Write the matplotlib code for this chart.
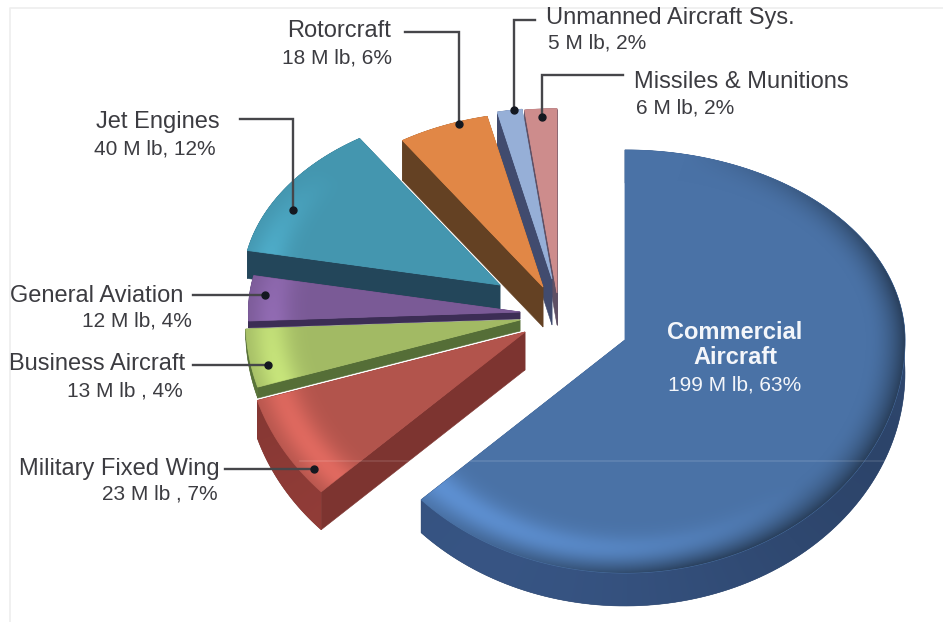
import numpy as np
import matplotlib
matplotlib.use("Agg")
import matplotlib.pyplot as plt
from matplotlib.patches import Polygon

plt.rcParams['font.family'] = ['Liberation Sans', 'DejaVu Sans']

# shipments by segment, million lb, clockwise from 12 o'clock
segments = ["Commercial\nAircraft", "Military Fixed Wing", "Business Aircraft", "General Aviation",
            "Jet Engines", "Rotorcraft", "Unmanned Aircraft Sys.", "Missiles & Munitions"]
pounds = [199, 23, 13, 12, 40, 18, 5, 6]
details = ["199 M lb, 63%", "23 M lb , 7%", "13 M lb , 4%", "12 M lb, 4%",
           "40 M lb, 12%", "18 M lb, 6%", "5 M lb, 2%", "6 M lb, 2%"]

top_colors = ["#4a72a6", "#b2544c", "#a2ba64", "#7a5a96", "#4496af", "#e18746", "#96afd7", "#cd8c8c"]
side_colors = ["#2f4870", "#7d3430", "#556e37", "#3c2d55", "#23465a", "#644123", "#414b6e", "#5f5064"]

# apex of every exploded slice, its radius scale and its thickness (pixels)
apex_x = [625, 525, 520, 520, 500, 543, 552, 557]
apex_y = [340, 332, 320, 312, 285, 287, 279, 293]
scale = [1.0, 1.0, 0.98, 0.97, 0.92, 0.92, 0.90, 0.97]
depth = [33, 38, 11, 7, 28, 40, 46, 32]

# perspective ellipse: the front half is stretched compared to the back half
RX, RY_BACK, RY_FRONT = 280.0, 190.0, 233.0
W, H = 943, 622
yy, xx = np.mgrid[0:H, 0:W] + 0.5


def project(x0, y0, r, theta):
    s = np.sin(theta)
    ry = np.where(s > 0, RY_BACK, RY_FRONT)
    return x0 + r * RX * np.cos(theta), y0 - r * ry * s


def polar_grid(x0, y0, sc):
    dx = (xx - x0) / RX
    up = y0 - yy
    dy = up / np.where(up > 0, RY_BACK, RY_FRONT)
    return np.hypot(dx, dy) / sc, np.arctan2(dy, dx)


def shaded_face(x0, y0, sc, color):
    # bevel along the rim: highlight lower left, shadow lower right
    r, th = polar_grid(x0, y0, sc)
    band = np.exp(-((r - 0.91) / 0.07) ** 2)
    rim = np.clip((r - 0.86) / 0.14, 0, 1) ** 2
    img = np.ones((H, W, 3)) * np.array(matplotlib.colors.to_rgb(color))
    lift = 0.26 * band * np.clip(np.cos(th - np.deg2rad(225)), 0, 1)
    dark = 0.45 * rim * np.clip(np.cos(th + np.deg2rad(30)) + 0.3, 0, 1)
    img = img * (1 + lift[..., None]) * (1 - dark[..., None])
    return np.clip(img, 0, 1)


def shaded_side(x0, y0, sc, color):
    # only the front half of the wall changes tone
    _, th = polar_grid(x0, y0, sc)
    front = np.clip(-np.sin(th), 0, 1)
    img = np.ones((H, W, 3)) * np.array(matplotlib.colors.to_rgb(color))
    return np.clip(img * (1 + 0.22 * front * np.cos(th - np.deg2rad(215)))[..., None], 0, 1)


def clipped_image(img, patch, zorder):
    im = ax.imshow(img, extent=(0, W, H, 0), zorder=zorder, interpolation="bilinear")
    im.set_clip_path(patch)


fig = plt.figure(figsize=(W / 100, H / 100), dpi=100)
ax = fig.add_axes([0, 0, 1, 1])

fractions = np.array(pounds) / np.sum(pounds)
ends = np.deg2rad(90 - 360 * np.cumsum(fractions))
starts = np.r_[np.deg2rad(90), ends[:-1]]

# back slices first so the nearer ones overlap them
draw_order = [7, 6, 5, 4, 3, 2, 1, 0]
z = 2
for i in draw_order:
    th = np.linspace(starts[i], ends[i], 160)
    px, py = project(apex_x[i], apex_y[i], scale[i], th)
    xs = np.r_[apex_x[i], px]
    ys = np.r_[apex_y[i], py]
    d = depth[i]

    # the two cut faces
    for ex, ey in ((px[0], py[0]), (px[-1], py[-1])):
        quad = [(apex_x[i], apex_y[i]), (ex, ey), (ex, ey + d), (apex_x[i], apex_y[i] + d)]
        ax.add_patch(Polygon(quad, closed=True, fc=side_colors[i], ec=side_colors[i], lw=0.4, zorder=z))
    z += 1

    # outer wall
    wall = Polygon(np.r_[np.c_[px, py], np.c_[px[::-1], py[::-1] + d]], closed=True,
                   fc=side_colors[i], ec=side_colors[i], lw=0.4, zorder=z)
    ax.add_patch(wall)
    z += 1
    clipped_image(shaded_side(apex_x[i], apex_y[i], scale[i], side_colors[i]), wall, z)
    z += 1

    face = Polygon(np.c_[xs, ys], closed=True, fc=top_colors[i], ec=top_colors[i], lw=0.6, zorder=z)
    ax.add_patch(face)
    z += 1
    clipped_image(shaded_face(apex_x[i], apex_y[i], scale[i], top_colors[i]), face, z)
    z += 1

# faint horizontal streak through the front slices
ax.plot([300, 890], [461, 461], color="white", alpha=0.12, lw=1.2, zorder=z)
z += 1

# leader lines, with a dot on the slice
leaders = [
    ([405, 459, 459], [32, 32, 124]),
    ([535, 514, 514], [20, 20, 110]),
    ([623, 542, 542], [75, 75, 117]),
    ([240, 293, 293], [119, 119, 210]),
    ([193, 265], [295, 295]),
    ([193, 268], [365, 365]),
    ([225, 314], [469, 469]),
]
for lx, ly in leaders:
    ax.plot(lx, ly, color="#46464a", lw=1.7, zorder=z, solid_joinstyle="miter")
    ax.plot(lx[-1], ly[-1], "o", color="#141820", ms=5, zorder=z + 1)

# label anchors in draw coordinates (centre of each text line)
name_pos = [None, (119.5, 469), (97, 364), (97, 296), (157.5, 122), (339.5, 31), (670, 18), (741, 82)]
detail_pos = [None, (160, 494), (125, 391), (137, 321), (154.5, 149), (337, 58), (597, 43), (685, 108)]
text_color = "#3c3c41"
for i in range(1, len(segments)):
    ax.text(*name_pos[i], segments[i], ha="center", va="center", fontsize=17, color=text_color, zorder=z + 2)
    ax.text(*detail_pos[i], details[i], ha="center", va="center", fontsize=15, color=text_color, zorder=z + 2)

ax.text(735, 345, segments[0], ha="center", va="center", fontsize=17, fontweight="bold", color="#f4f6fa",
        linespacing=1.12, zorder=z + 2)
ax.text(735, 385, details[0], ha="center", va="center", fontsize=15, color="#f4f6fa", zorder=z + 2)

# thin frame on the top and left
ax.plot([10, 10, W], [H, 8, 8], color="#eeeeee", lw=1.2, zorder=1)

ax.set_xlim(0, W)
ax.set_ylim(H, 0)
ax.set_aspect("auto")
ax.axis("off")

fig.savefig("out.png", dpi=100)
